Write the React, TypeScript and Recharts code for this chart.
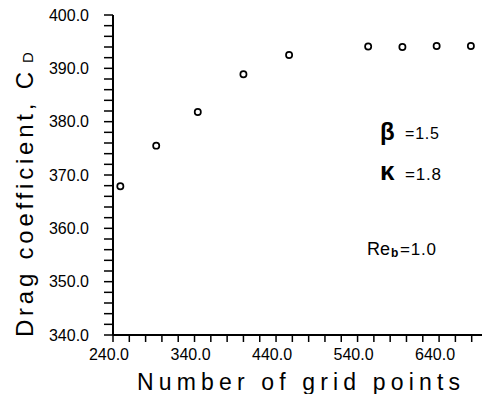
import React from "react";
import { ScatterChart, Scatter, XAxis, YAxis, Label, Customized } from "recharts";

const gridPoints = [249, 293, 344, 400, 456, 553, 595, 637, 679];
const dragCoefficient = [367.9, 375.5, 381.8, 388.9, 392.5, 394.1, 394.0, 394.2, 394.2];

const xTicks = [240, 260, 280, 300, 320, 340, 360, 380, 400, 420, 440, 460, 480, 500, 520, 540, 560, 580, 600, 620, 640, 660, 680, 700];
const xMajorTicks = [240, 340, 440, 540, 640];
const yTicks = [340, 342, 344, 346, 348, 350, 352, 354, 356, 358, 360, 362, 364, 366, 368, 370, 372, 374, 376, 378, 380, 382, 384, 386, 388, 390, 392, 394, 396, 398, 400];
const yMajorTicks = [340, 350, 360, 370, 380, 390, 400];

const xTitle = "Number of grid points";
const yTitle = "Drag coefficient, C";
const yTitleSub = "D";

const data = gridPoints.map((x, i) => ({ x, y: dragCoefficient[i] }));

const FONT = "'Liberation Sans', Arial, Helvetica, sans-serif";

const fmtX = (v: number) => (xMajorTicks.includes(v) ? v.toFixed(1) : "");
const fmtY = (v: number) => (yMajorTicks.includes(v) ? v.toFixed(1) : "");

const XTitle = () => (
  <text x={137} y={390} fontSize={23} textLength={323} lengthAdjust="spacing" fontFamily={FONT} fill="#000">
    {xTitle}
  </text>
);

const YTitle = () => (
  <g transform="translate(33,337) rotate(-90)" fontFamily={FONT} fill="#000">
    <text x={0} y={0} fontSize={24} textLength={265} lengthAdjust="spacing">{yTitle}</text>
    <text x={274} y={0} fontSize={15}>{yTitleSub}</text>
  </g>
);

const Notes = () => (
  <g fontFamily={FONT} fill="#000">
    <text x={380} y={140} fontSize={24} fontWeight="bold">β</text>
    <text x={405} y={138.5} fontSize={16} letterSpacing={0.8}>=1.5</text>
    <text x={380} y={180} fontSize={26} fontWeight="bold">κ</text>
    <text x={405} y={180} fontSize={17} letterSpacing={0.8}>=1.8</text>
    <text x={367} y={255} fontSize={18}>Re</text>
    <text x={391} y={257} fontSize={12} fontWeight="bold">b</text>
    <text x={400} y={255} fontSize={17} letterSpacing={0.8}>=1.0</text>
  </g>
);

const Marker = (props: any) => {
  const { cx, cy } = props;
  return <circle cx={cx} cy={cy} r={3.1} fill="#fff" stroke="#000" strokeWidth={1.7} />;
};

export default function App() {
  return (
    <div style={{ position: "absolute", left: 0, top: 0, width: 482, height: 394, overflow: "hidden", background: "#fff" }}>
      <ScatterChart width={488} height={394} margin={{ top: 15, right: 0, left: 0, bottom: 0 }}>
        <XAxis
          type="number"
          dataKey="x"
          domain={[240, 700]}
          ticks={xTicks}
          interval={0}
          height={59}
          tickSize={7}
          tickMargin={7}
          tickFormatter={fmtX}
          tick={{ fontSize: 16, fill: "#000", fontFamily: FONT, dx: -4 }}
          tickLine={{ stroke: "#000", strokeWidth: 1.5 }}
          axisLine={{ stroke: "#000", strokeWidth: 2 }}
          allowDataOverflow
        >
          <Label content={<XTitle />} />
        </XAxis>
        <YAxis
          type="number"
          dataKey="y"
          domain={[340, 400]}
          ticks={yTicks}
          interval={0}
          width={113}
          tickSize={9}
          tickMargin={15}
          tickFormatter={fmtY}
          tick={{ fontSize: 16, fill: "#000", fontFamily: FONT }}
          tickLine={{ stroke: "#000", strokeWidth: 1.5 }}
          axisLine={{ stroke: "#000", strokeWidth: 2 }}
          allowDataOverflow
        >
          <Label content={<YTitle />} />
        </YAxis>
        <Scatter data={data} shape={<Marker />} isAnimationActive={false} />
        <Customized component={<Notes />} />
      </ScatterChart>
    </div>
  );
}
